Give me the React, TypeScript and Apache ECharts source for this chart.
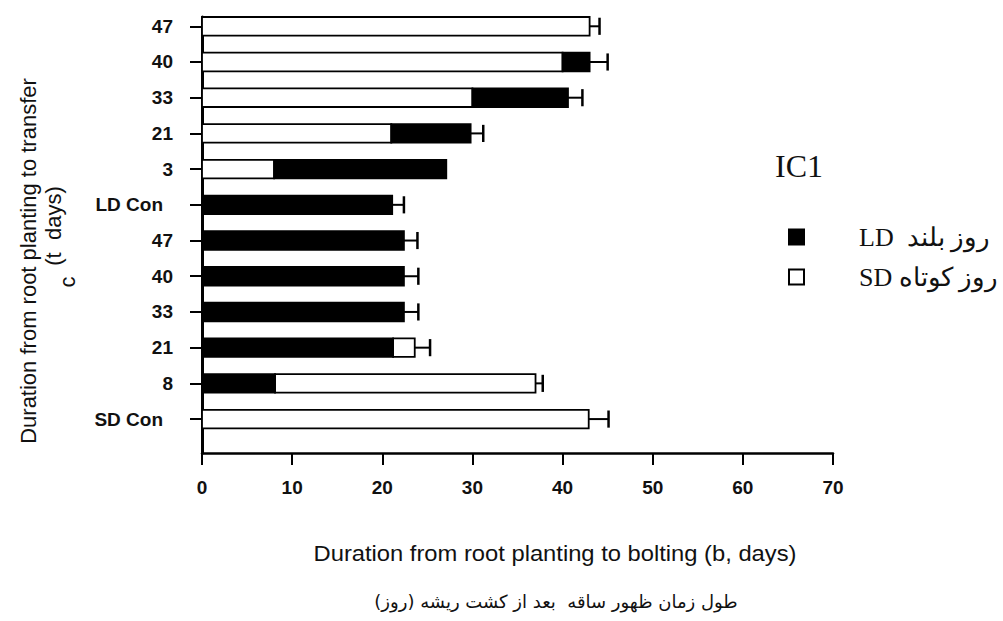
import React, { useEffect, useRef } from "react";
import * as echarts from "echarts";

// Rows listed top to bottom
const rowLabels = ["47", "40", "33", "21", "3", "LD Con", "47", "40", "33", "21", "8", "SD Con"];
// Photoperiod of the first phase of each bar
const firstPhase = ["SD", "SD", "SD", "SD", "SD", "LD", "LD", "LD", "LD", "LD", "LD", "SD"];
// End (days) of the first phase segment
const firstPhaseEnd = [43, 40, 30, 21, 8, 21.1, 22.4, 22.4, 22.4, 21.2, 8.1, 42.9];
// Total bar length (days to bolting)
const barTotal = [43, 43, 40.6, 29.8, 27.1, 21.1, 22.4, 22.4, 22.4, 23.6, 37.0, 42.9];
// Upper end of the error bar (null = none)
const errorEnd: (number | null)[] = [44.1, 45, 42.2, 31.2, null, 22.4, 23.9, 24, 24, 25.3, 37.8, 45.1];

const xTicks = [0, 10, 20, 30, 40, 50, 60, 70];

const legendText: Record<string, string> = {
  LD: "LD  روز بلند",
  SD: "SD روز کوتاه",
};

export default function App() {
  const ref = useRef<HTMLDivElement>(null);

  useEffect(() => {
    if (!ref.current) return;
    const chart = echarts.init(ref.current, undefined, { renderer: "svg" });
    const n = rowLabels.length;
    const ldData: number[][] = [];
    const sdData: number[][] = [];
    const errData: number[][] = [];
    for (let i = 0; i < n; i++) {
      const pos = n - 1 - i;
      const first = firstPhase[i] === "LD" ? ldData : sdData;
      const second = firstPhase[i] === "LD" ? sdData : ldData;
      first.push([0, firstPhaseEnd[i], pos]);
      if (barTotal[i] > firstPhaseEnd[i]) second.push([firstPhaseEnd[i], barTotal[i], pos]);
      const e = errorEnd[i];
      if (e !== null) errData.push([barTotal[i], e, pos]);
    }
    const half = 0.26;
    const barRender = (fill: string) => (params: any, api: any) => {
      const a = api.coord([api.value(0), api.value(2) + half]);
      const b = api.coord([api.value(1), api.value(2) - half]);
      return {
        type: "rect",
        shape: { x: a[0], y: a[1], width: b[0] - a[0], height: b[1] - a[1] },
        style: { fill, stroke: "#000", lineWidth: 1.8 },
      };
    };
    const errRender = (params: any, api: any) => {
      const p0 = api.coord([api.value(0), api.value(2)]);
      const p1 = api.coord([api.value(1), api.value(2)]);
      const capHalf = api.size([0, 0.24])[1];
      return {
        type: "group",
        children: [
          { type: "line", shape: { x1: p0[0], y1: p0[1], x2: p1[0], y2: p1[1] }, style: { stroke: "#000", lineWidth: 2 } },
          { type: "line", shape: { x1: p1[0], y1: p1[1] - capHalf, x2: p1[0], y2: p1[1] + capHalf }, style: { stroke: "#000", lineWidth: 2.5 } },
        ],
      };
    };
    const yVals = rowLabels.map((_, i) => i);
    chart.setOption({
      animation: false,
      backgroundColor: "#ffffff",
      title: {
        text: "IC1",
        left: 770,
        top: 145,
        textStyle: { fontFamily: "Liberation Serif", fontSize: 32, fontWeight: "normal", color: "#111" },
      },
      legend: {
        orient: "vertical",
        left: 783,
        top: 219,
        itemWidth: 15,
        itemHeight: 15,
        itemGap: 14,
        icon: "rect",
        data: ["LD", "SD"],
        formatter: (name: string) => legendText[name],
        textStyle: { fontFamily: "Liberation Serif", fontSize: 26, color: "#111", padding: [0, 0, 0, 50] },
      },
      grid: { left: 202, right: 170, top: 17, bottom: 168 },
      xAxis: {
        type: "value",
        min: 0,
        max: 70,
        interval: 10,
        axisLine: { show: true, onZero: false, lineStyle: { color: "#000", width: 2.5 } },
        axisTick: { show: true, length: 12, lineStyle: { color: "#000", width: 2 } },
        axisLabel: {
          margin: 25,
          color: "#111",
          fontFamily: "Liberation Sans",
          fontWeight: "bold",
          fontSize: 19,
          formatter: (v: number) => (xTicks.includes(v) ? String(v) : ""),
        },
        splitLine: { show: false },
      },
      yAxis: {
        type: "value",
        min: -0.95,
        max: 11.26,
        axisLine: { show: true, onZero: false, lineStyle: { color: "#000", width: 3 } },
        axisTick: { show: true, length: 12, customValues: yVals, lineStyle: { color: "#000", width: 2 } },
        axisLabel: {
          customValues: yVals,
          margin: 29,
          color: "#111",
          fontFamily: "Liberation Sans",
          fontWeight: "bold",
          fontSize: 19,
          formatter: (v: number) => {
            const lbl = rowLabels[n - 1 - Math.round(v)] ?? "";
            return lbl.includes("Con") ? `{con|${lbl}}` : lbl;
          },
          rich: {
            con: { fontFamily: "Liberation Sans", fontWeight: "bold", fontSize: 19, color: "#111", padding: [0, 10, 0, 0] },
          },
        },
        splitLine: { show: false },
      },
      series: [
        {
          name: "SD",
          type: "custom",
          renderItem: barRender("#ffffff"),
          encode: { x: [0, 1], y: 2 },
          itemStyle: { color: "#ffffff", borderColor: "#000", borderWidth: 2 },
          data: sdData,
        },
        {
          name: "LD",
          type: "custom",
          renderItem: barRender("#000000"),
          encode: { x: [0, 1], y: 2 },
          itemStyle: { color: "#000000", borderColor: "#000", borderWidth: 1 },
          data: ldData,
        },
        {
          name: "error",
          type: "custom",
          renderItem: errRender,
          encode: { x: [0, 1], y: 2 },
          data: errData,
        },
      ],
      graphic: [
        {
          type: "text",
          x: 28,
          y: 261,
          rotation: Math.PI / 2,
          style: {
            text: "Duration from root planting to transfer",
            align: "center",
            verticalAlign: "middle",
            font: "22px 'Liberation Sans'",
            fill: "#111",
          },
        },
        {
          type: "text",
          x: 53,
          y: 226,
          rotation: Math.PI / 2,
          style: {
            text: "(t  days)",
            align: "center",
            verticalAlign: "middle",
            font: "22px 'Liberation Sans'",
            fill: "#111",
          },
        },
        {
          type: "text",
          x: 67,
          y: 282,
          rotation: Math.PI / 2,
          style: {
            text: "c",
            align: "center",
            verticalAlign: "middle",
            font: "22px 'Liberation Sans'",
            fill: "#111",
          },
        },
        {
          type: "text",
          x: 555,
          y: 553,
          scaleX: 1.08,
          style: {
            text: "Duration from root planting to bolting (b, days)",
            align: "center",
            verticalAlign: "middle",
            font: "22px 'Liberation Sans'",
            fill: "#111",
          },
        },
        {
          type: "text",
          x: 556,
          y: 601,
          style: {
            text: "\u200Fطول زمان ظهور ساقه  بعد از کشت ریشه (روز)\u200F",
            align: "center",
            verticalAlign: "middle",
            font: "18px 'DejaVu Sans'",
            fill: "#111",
          },
        },
      ],
    });
    return () => chart.dispose();
  }, []);

  return <div ref={ref} style={{ position: "fixed", left: 0, top: 0, width: 1003, height: 621 }} />;
}
